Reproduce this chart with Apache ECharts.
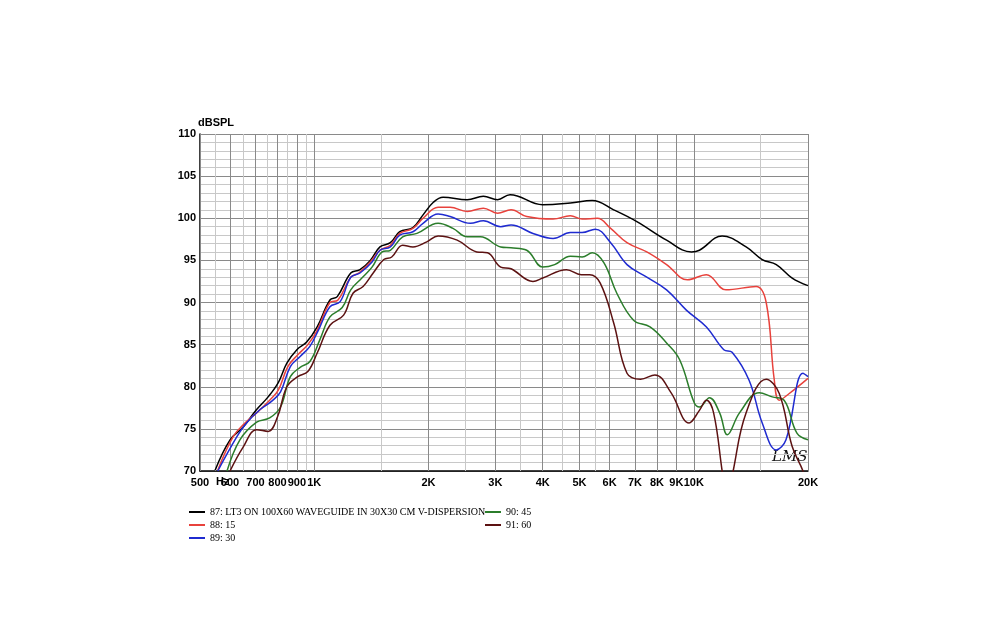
<!DOCTYPE html>
<html><head><meta charset="utf-8">
<script src="https://cdn.jsdelivr.net/npm/echarts@6/dist/echarts.min.js"></script>
<style>body{margin:0;background:#fff}#c{width:1000px;height:640px}</style>
</head><body><div id="c"></div>
<script>
// frequency (Hz) and level (dB)
var f87 = [548,600,649,705,756,804,847,900,955,1018,1100,1150,1248,1320,1405,1490,1587,1680,1820,1935,2060,2185,2530,2790,3040,3280,4000,4730,5400,6150,7080,8480,9860,10350,11880,13740,15150,16500,18170,20000];
var d87 = [70.1,73.7,75.2,77.3,78.8,80.5,82.8,84.4,85.3,87.1,90.3,90.7,93.5,93.9,95.0,96.6,97.1,98.4,98.9,100.4,101.9,102.5,102.2,102.6,102.2,102.8,101.6,101.8,102.1,101.0,99.6,97.4,96.0,96.2,97.9,96.6,95.1,94.5,92.9,92.0];
var f88 = [557,612,657,705,763,804,852,905,962,1018,1100,1155,1248,1310,1405,1490,1587,1680,1820,1935,2120,2280,2530,2790,3040,3300,3630,4260,4730,5080,5570,6040,6670,7520,8480,9620,10800,12160,14600,15520,16300,16800,17850,20000];
var d88 = [70.1,74.1,75.7,76.9,78.4,79.6,82.4,83.8,85.0,86.7,90.0,90.3,93.0,93.5,94.8,96.2,96.8,98.2,98.8,100.0,101.3,101.3,100.8,101.2,100.6,101.0,100.2,99.9,100.3,99.9,100.0,98.8,97.1,96.0,94.5,92.7,93.3,91.5,91.9,90.0,80.8,78.4,79.2,81.0];
var f89 = [557,626,663,720,773,815,865,918,974,1025,1100,1170,1248,1320,1420,1490,1587,1680,1820,1935,2120,2280,2580,2790,3100,3300,3770,4260,4730,5080,5500,6040,6670,7520,8480,9560,10800,12000,12620,13980,15150,16500,17500,19400,20000];
var d89 = [70,74.1,75.7,77.3,78.3,79.4,82.4,83.6,84.8,86.7,89.5,90.1,93.0,93.5,94.8,96.2,96.6,98.0,98.4,99.4,100.5,100.2,99.4,99.7,99.0,99.2,98.2,97.6,98.3,98.3,98.7,97.1,94.5,93.0,91.5,89.1,87.1,84.4,84.1,80.8,75.7,72.5,73.7,81.6,81.2];
var f90 = [589,637,705,763,815,865,918,974,1035,1100,1185,1248,1335,1420,1510,1587,1710,1865,2120,2320,2530,2740,3100,3300,3630,4000,4300,4730,5080,5400,5800,6270,6940,7670,8480,9180,10030,10350,11000,11700,12260,13200,14880,16100,17300,18700,20000];
var d90 = [70,73.7,75.8,76.3,77.6,81.2,82.3,83.0,85.6,88.3,89.4,91.5,92.9,94.2,96.0,96.2,97.8,98.2,99.4,98.8,97.8,97.8,96.6,96.5,96.2,94.2,94.5,95.5,95.4,95.9,94.7,91.1,87.9,87.1,85.2,83.2,78.1,77.6,78.7,76.9,74.3,76.9,79.3,78.8,78.4,74.5,73.7];
var f91 = [600,649,705,756,800,847,905,962,1018,1100,1195,1265,1345,1430,1525,1600,1710,1820,1980,2120,2380,2680,2860,3100,3300,3770,4000,4620,5050,5320,5670,6150,6670,7240,7900,8710,9720,10350,10800,11280,11880,12250,12700,13740,15520,16800,18170,19400,20000];
var d91 = [70,72.8,74.9,74.7,76.4,80.0,81.2,81.8,84.0,87.3,88.5,91.1,91.9,93.5,95.1,95.4,96.8,96.6,97.2,97.9,97.4,96.0,95.9,94.2,94.0,92.5,92.9,93.9,93.3,93.3,92.3,87.6,81.6,80.9,81.4,79.3,75.7,77.2,78.4,76.9,70,66,70,76.9,80.9,79.2,72.9,70,68];

var names = ["87: LT3 ON 100X60 WAVEGUIDE IN 30X30 CM V-DISPERSION", "88: 15", "89: 30", "90: 45", "91: 60"];
var colors = ["#000000", "#e8423c", "#1f2bd0", "#2b7d2b", "#5c1212"];
var freqs = [f87, f88, f89, f90, f91];
var levels = [d87, d88, d89, d90, d91];

var majorTicks = [500,600,700,800,900,1000,2000,3000,4000,5000,6000,7000,8000,9000,10000,20000];
var minorTicks = [550,650,750,850,950,1500,2500,3500,4500,5500,15000];
var tickNames = {500:"500",600:"600",700:"700",800:"800",900:"900",1000:"1K",2000:"2K",3000:"3K",4000:"4K",5000:"5K",6000:"6K",7000:"7K",8000:"8K",9000:"9K",10000:"10K",20000:"20K"};

var lg = function (v) { return Math.log10(v); };
var xMin = lg(500), xMax = lg(20000);
var gridH = 640 - 134 - 169;

function xAxisDef(ticks, show, color, width) {
  return {
    type: "value", min: xMin, max: xMax, position: "bottom",
    axisLine: { show: show, lineStyle: { color: "#000", width: 1.5 } },
    splitLine: { show: false },
    axisTick: { show: true, inside: true, length: gridH, customValues: ticks.map(lg), lineStyle: { color: color, width: width } },
    axisLabel: {
      show: show, customValues: ticks.map(lg), color: "#000", fontWeight: "bold", fontSize: 11,
      fontFamily: "Liberation Sans", margin: 6,
      formatter: function (v) { return tickNames[Math.round(Math.pow(10, v))] || ""; }
    }
  };
}

var series = names.map(function (n, i) {
  return {
    name: n, type: "line", smooth: 0.4, symbol: "none", clip: true,
    lineStyle: { color: colors[i], width: 1.5 }, itemStyle: { color: colors[i] },
    data: freqs[i].map(function (f, k) { return [lg(f), levels[i][k]]; })
  };
});

function legendDef(items, left) {
  return {
    data: items, orient: "vertical", left: left, top: 507, itemGap: 3,
    itemWidth: 16, itemHeight: 2, icon: "rect", padding: 0,
    textStyle: { fontFamily: "Liberation Serif", fontSize: 10, color: "#000" }
  };
}

var chart = echarts.init(document.getElementById("c"));
chart.setOption({
  animation: false,
  grid: { left: 200, right: 192, top: 134, bottom: 169 },
  xAxis: [xAxisDef(minorTicks, false, "#c8c8c8", 1), xAxisDef(majorTicks, true, "#8a8a8a", 1)],
  yAxis: {
    type: "value", min: 70, max: 110, interval: 5,
    name: "dBSPL", nameLocation: "end", nameGap: 4,
    nameTextStyle: { color: "#000", fontWeight: "bold", fontSize: 11, fontFamily: "Liberation Sans", align: "left", padding: [0, 0, 0, -2] },
    axisLine: { show: true, lineStyle: { color: "#000", width: 1.5 } },
    axisTick: { show: false },
    axisLabel: { color: "#000", fontWeight: "bold", fontSize: 11, fontFamily: "Liberation Sans", margin: 4 },
    splitLine: { show: true, lineStyle: { color: "#8a8a8a", width: 1 } },
    minorTick: { show: false, splitNumber: 5 },
    minorSplitLine: { show: true, lineStyle: { color: "#c8c8c8", width: 1 } }
  },
  legend: [legendDef(names.slice(0, 3), 189), legendDef(names.slice(3), 485)],
  graphic: [
    { type: "text", left: 216, top: 476, style: { text: "Hz", font: "bold 11px Liberation Sans", fill: "#000" } },
    { type: "text", left: 772, top: 450, style: { text: "LMS", font: "italic 15px DejaVu Serif", fill: "#111" } }
  ],
  series: series
});
</script>
</body></html>
